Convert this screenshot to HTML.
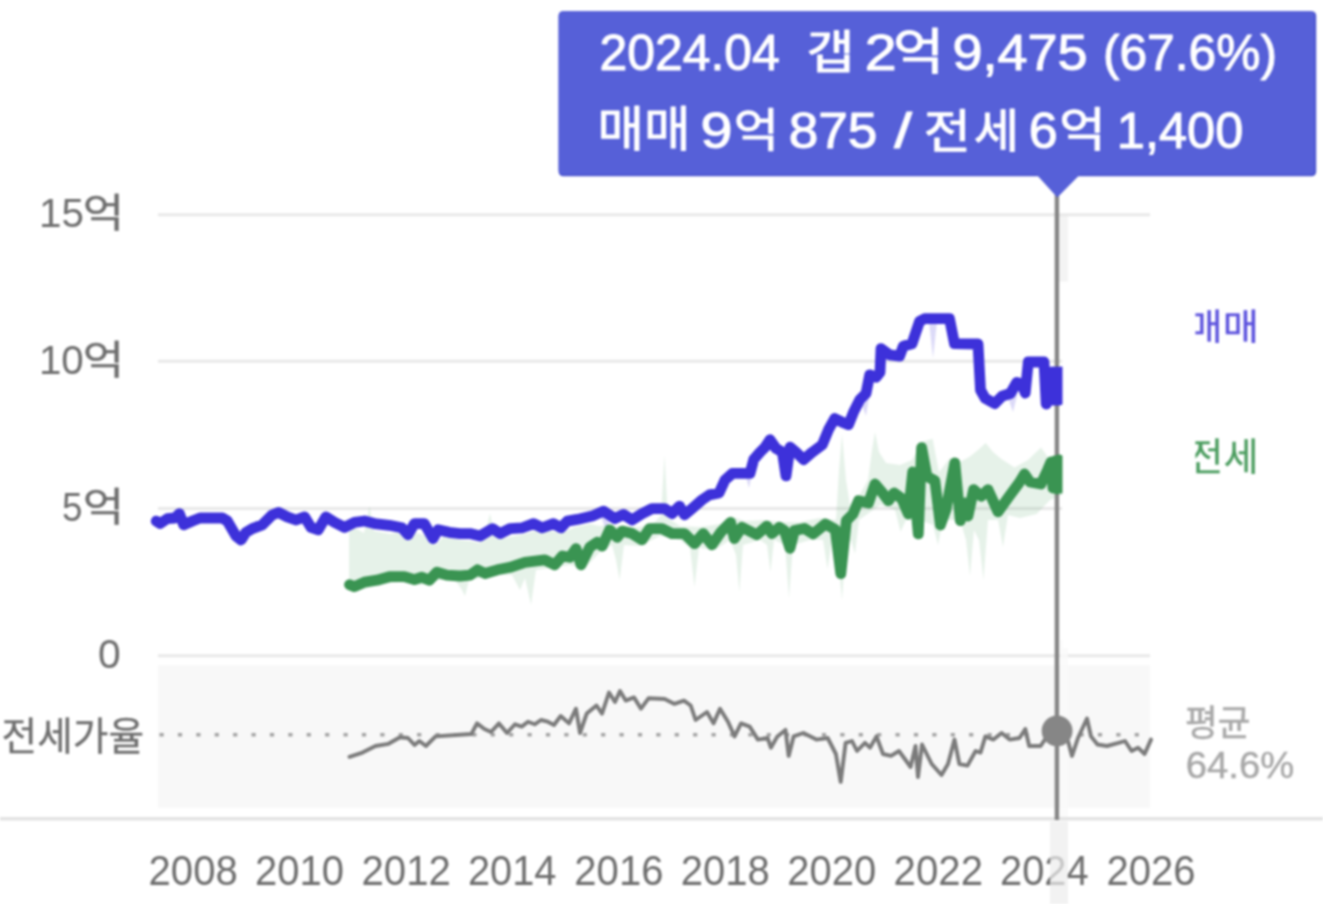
<!DOCTYPE html>
<html lang="ko"><head><meta charset="utf-8"><title>매매 / 전세 시세 차트</title>
<style>
html,body{margin:0;padding:0;background:#fff;}
body{width:1323px;height:904px;overflow:hidden;font-family:"Liberation Sans","Noto Sans CJK KR",sans-serif;}
svg{display:block;filter:blur(1.1px);}
svg text{font-family:"Liberation Sans","Noto Sans CJK KR",sans-serif;}
</style></head>
<body>
<svg width="1323" height="904" viewBox="0 0 1323 904" role="img" aria-label="매매/전세 시세 차트">
<rect width="1323" height="904" fill="#fff"/>
<rect x="1058" y="214" width="10" height="67.5" fill="#f4f4f4"/>
<line x1="158" y1="214.8" x2="1150" y2="214.8" stroke="#e8e8e8" stroke-width="3"/>
<line x1="158" y1="361.3" x2="1062" y2="361.3" stroke="#e8e8e8" stroke-width="3"/>
<line x1="158" y1="508.5" x2="1062" y2="508.5" stroke="#e8e8e8" stroke-width="3"/>
<line x1="158" y1="655.8" x2="1150" y2="655.8" stroke="#e8e8e8" stroke-width="3"/>
<rect x="158" y="665.3" width="992" height="142.4" fill="#f8f8f8"/>
<rect x="1060" y="640" width="8" height="180" fill="#fafafa" fill-opacity="0.8"/>
<line x1="0" y1="818.7" x2="1323" y2="818.7" stroke="#e3e3e3" stroke-width="3.6"/>
<line x1="159.5" y1="734.8" x2="1152" y2="734.8" stroke="#a2a2a2" stroke-width="3.6" stroke-dasharray="4.2 14.2"/>
<polygon points="349.0,530.0 355.0,528.0 364.0,533.0 369.5,506.0 374.0,531.0 390.0,534.0 401.0,532.0 408.0,541.0 416.0,533.0 428.0,536.0 436.0,545.0 444.0,536.0 460.0,540.0 470.0,541.0 480.0,543.0 486.0,530.0 490.0,513.6 494.0,532.0 505.0,538.0 520.0,535.0 535.0,531.0 550.0,531.0 562.0,533.0 575.0,527.0 590.0,524.0 600.0,526.0 610.0,524.0 620.0,527.0 640.0,527.0 655.0,522.0 661.0,515.0 664.5,455.0 668.0,518.0 680.0,526.0 700.0,527.0 720.0,524.0 730.0,516.0 745.0,521.0 765.0,520.0 780.0,522.0 800.0,522.0 820.0,518.0 836.0,520.0 839.0,470.0 842.0,434.0 846.0,480.0 850.0,505.0 860.0,494.0 868.0,480.0 872.0,450.0 875.0,432.0 879.0,452.0 886.0,463.0 900.0,465.0 912.0,460.0 922.0,442.0 932.6,438.8 939.0,472.0 950.0,458.0 960.0,462.0 970.0,456.5 978.0,450.0 985.7,443.0 993.0,452.0 1001.0,458.7 1014.5,467.5 1028.0,460.0 1041.0,447.6 1050.0,460.0 1062.0,458.0 1062.0,495.0 1050.0,500.0 1036.6,514.0 1020.0,518.0 1008.0,515.0 1003.0,547.0 998.0,520.0 988.0,520.0 983.5,580.0 979.0,540.0 974.0,530.0 970.0,576.0 966.0,540.0 960.0,520.0 943.0,520.0 938.0,545.0 933.0,525.0 920.0,520.0 906.0,520.0 900.6,531.7 895.0,510.0 880.0,505.0 859.0,520.0 855.0,554.0 851.0,540.0 846.0,545.0 842.0,600.0 838.0,560.0 832.0,540.0 827.5,569.0 823.0,540.0 810.0,540.0 793.0,545.0 789.0,598.0 785.0,545.0 774.0,540.0 770.5,572.0 767.0,545.0 760.0,540.0 743.0,545.0 739.4,592.0 736.0,555.0 730.0,540.0 715.0,550.0 699.0,548.0 694.5,587.0 690.0,548.0 680.0,540.0 660.0,536.0 640.0,546.0 624.0,545.0 619.6,579.7 616.0,560.0 612.0,545.0 600.0,552.0 585.0,568.0 570.0,565.0 550.0,568.0 536.0,570.0 531.0,604.7 525.0,578.0 520.0,590.0 512.0,575.0 500.0,575.0 480.0,578.0 469.0,580.0 465.0,596.0 462.0,590.0 455.0,580.0 440.0,580.0 420.0,585.0 400.0,582.0 380.0,584.0 360.0,590.0 349.0,590.0" fill="#3a9452" fill-opacity="0.125"/>
<polygon points="929.0,322.0 933.0,358.0 937.0,322.0" fill="#3b30d8" fill-opacity="0.18"/>
<polygon points="1008.0,398.0 1013.0,412.0 1018.0,392.0" fill="#3b30d8" fill-opacity="0.18"/>
<polygon points="600.0,514.0 606.0,530.0 612.0,516.0" fill="#3b30d8" fill-opacity="0.18"/>
<polygon points="745.0,474.0 749.0,488.0 753.0,470.0" fill="#3b30d8" fill-opacity="0.18"/>
<polygon points="860.0,400.0 866.0,416.0 870.0,392.0" fill="#3b30d8" fill-opacity="0.18"/>
<line x1="1056.9" y1="190" x2="1056.9" y2="820" stroke="#858585" stroke-width="4.4"/>
<polyline points="349.5,756.8 362.5,752.6 375.5,746.0 388.5,743.8 400.0,737.3 408.0,738.0 414.5,745.0 419.4,741.0 425.9,746.0 435.6,736.4 460.0,734.7 471.4,734.0 477.0,723.4 484.4,729.0 491.0,732.0 499.0,723.4 507.0,733.0 515.0,724.3 521.7,726.6 528.0,721.7 534.7,724.3 541.0,720.0 547.7,721.7 554.0,725.0 560.7,716.0 569.0,723.4 576.0,708.7 580.0,733.0 586.7,713.6 596.5,705.5 602.0,713.6 609.0,692.5 615.0,702.0 620.0,691.0 625.7,700.6 634.0,697.4 641.0,708.7 648.5,698.3 664.7,699.0 674.5,703.9 684.0,700.6 690.7,705.5 695.6,720.0 707.0,712.0 713.5,723.4 720.0,708.7 728.0,721.7 734.6,736.4 741.0,723.4 749.7,726.6 757.9,739.6 767.6,738.0 770.9,747.7 777.4,736.4 785.5,729.9 788.7,755.9 793.6,736.4 803.4,733.0 816.4,739.6 827.7,738.0 835.9,754.0 840.7,781.9 845.6,742.9 852.0,741.0 857.0,751.0 865.0,742.9 870.0,747.7 876.5,736.4 883.0,754.0 891.0,755.9 899.0,751.0 910.6,767.0 915.5,746.0 918.0,777.0 922.0,744.5 931.7,764.0 941.5,775.0 948.0,764.0 954.5,739.6 959.4,764.0 967.5,765.6 975.6,751.0 980.5,752.6 985.4,736.4 993.5,739.6 1001.6,733.0 1009.7,739.6 1019.5,738.0 1025.3,729.0 1029.2,746.0 1040.6,746.0 1047.0,736.4 1057.0,732.0 1068.0,741.0 1072.0,755.9 1078.0,738.0 1087.0,718.5 1091.0,736.4 1097.5,744.5 1107.0,746.0 1118.6,742.9 1125.0,741.0 1131.6,751.0 1138.0,747.7 1144.6,754.0 1151.0,739.6" fill="none" stroke="#7b7b7b" stroke-width="3.9" stroke-linejoin="round" stroke-linecap="round"/>
<polyline points="349.5,584.7 354.5,586.7 364.5,582.2 377.0,580.2 389.4,576.7 404.4,576.7 414.4,579.7 421.9,577.2 429.3,580.2 436.8,572.2 446.8,575.2 460.0,576.0 470.0,575.2 477.5,569.8 485.0,573.5 497.4,569.8 510.0,567.3 524.9,562.3 544.8,559.8 554.8,564.8 562.3,556.0 569.8,557.3 576.0,548.6 581.0,564.8 589.7,547.3 597.2,542.3 602.2,546.1 609.7,529.8 617.1,537.3 622.1,531.1 632.1,533.6 642.1,539.8 649.6,528.6 662.0,528.6 672.0,533.6 684.5,533.6 694.5,543.6 703.2,533.6 711.9,544.8 720.7,532.3 730.6,522.4 734.4,538.6 741.9,527.3 756.8,534.8 766.8,526.1 771.8,533.6 779.3,527.3 784.4,530.6 790.0,548.3 794.4,530.6 804.3,528.4 813.2,533.9 825.4,524.0 835.3,529.5 840.8,573.7 846.4,520.6 853.0,514.0 858.5,500.7 868.5,503.0 875.0,484.0 881.8,491.9 888.4,500.7 894.0,493.0 901.7,498.5 908.3,514.0 912.7,472.0 918.3,533.9 921.6,447.6 927.0,476.4 934.9,480.8 940.4,525.0 946.0,509.6 954.8,463.0 960.3,520.6 964.7,503.0 968.0,516.0 973.6,489.6 981.3,496.3 988.0,489.6 998.0,511.8 1010.0,495.2 1019.0,483.0 1024.5,474.0 1030.0,482.0 1041.0,484.0 1047.7,469.7 1051.0,462.0 1053.0,488.0 1055.0,461.0 1057.0,489.0 1059.0,460.0 1061.0,488.0 1062.0,470.0" fill="none" stroke="#3a9452" stroke-width="10.8" stroke-linejoin="round" stroke-linecap="round"/>
<polyline points="156.2,521.1 160.0,523.6 167.4,518.6 175.0,518.0 179.4,513.6 183.7,524.9 192.4,521.0 200.0,518.0 222.3,518.0 227.3,521.0 236.0,536.0 241.0,540.0 246.0,532.3 252.3,528.6 262.2,524.9 272.2,514.9 278.4,512.4 287.2,516.9 296.0,520.0 304.6,516.9 311.0,527.3 318.3,529.8 325.8,516.9 334.6,522.4 344.5,527.3 354.5,522.4 364.5,521.0 374.5,523.6 389.4,525.3 401.9,527.8 408.0,534.8 414.4,523.6 424.4,523.6 433.0,538.6 438.0,529.8 449.3,532.3 460.0,533.6 470.0,533.6 480.0,536.0 492.4,528.6 500.0,533.6 510.0,528.6 522.4,527.8 533.6,523.6 542.3,527.8 553.5,523.6 561.0,527.8 567.3,521.1 577.2,519.4 592.2,516.1 603.4,511.1 614.7,518.6 623.4,514.4 632.1,519.9 642.1,513.6 652.0,508.6 664.5,508.6 672.0,513.6 679.5,506.1 684.5,514.9 692.0,508.6 702.0,499.9 709.4,494.9 719.0,493.0 725.0,480.0 732.5,473.4 750.0,473.4 753.7,459.6 760.0,452.2 765.0,447.2 770.0,439.7 776.0,448.4 782.4,452.2 786.0,475.9 790.0,447.2 796.0,452.2 803.6,459.6 812.3,452.2 822.3,444.7 828.5,429.7 834.7,418.5 842.2,422.2 848.5,424.7 853.5,412.2 859.7,399.8 866.0,393.5 869.7,374.8 876.0,377.3 880.0,372.3 881.0,348.6 889.6,354.9 899.6,356.1 903.3,346.1 912.0,343.7 919.6,321.2 924.5,318.7 949.5,318.7 954.5,343.7 978.0,344.0 980.5,390.0 985.2,398.3 994.7,403.6 1002.0,396.2 1010.4,393.5 1016.7,382.5 1022.0,384.0 1025.2,393.0 1028.3,362.0 1044.0,362.0 1046.2,404.0 1049.3,372.0 1051.0,400.0 1053.0,372.0 1055.0,400.0 1057.0,372.0 1059.0,400.0 1061.0,372.0 1062.0,398.0" fill="none" stroke="#3d31da" stroke-width="10.8" stroke-linejoin="round" stroke-linecap="round"/>
<rect x="1062.5" y="282" width="90" height="366" fill="#fff"/>
<circle cx="1057.1" cy="730.8" r="15.4" fill="#868686"/>
<rect x="558.6" y="11.2" width="757.6" height="165" rx="4.5" fill="#4b55cf"/>
<rect x="558.6" y="11.2" width="755.8" height="163.4" rx="4.5" fill="#5660d8"/>
<polygon points="1036,174 1080.5,174 1057.3,197.5" fill="#5660d8"/>
<text x="599.49" y="70.2" font-size="50.5" fill="#ffffff" textLength="180.27" lengthAdjust="spacingAndGlyphs" stroke="#ffffff" stroke-width="1.1" stroke-linejoin="round">2024.04</text>
<text x="806.37" y="68.18" font-size="46" fill="#ffffff" textLength="48.4" lengthAdjust="spacingAndGlyphs" stroke="#ffffff" stroke-width="1.0" stroke-linejoin="round">갭</text>
<text x="864.82" y="70.2" font-size="50.5" fill="#ffffff" textLength="31.86" lengthAdjust="spacingAndGlyphs" stroke="#ffffff" stroke-width="1.1" stroke-linejoin="round">2</text>
<text x="892.94" y="69.08" font-size="49" fill="#ffffff" textLength="51.2" lengthAdjust="spacingAndGlyphs" stroke="#ffffff" stroke-width="1.0" stroke-linejoin="round">억</text>
<text x="952.47" y="70.2" font-size="50.5" fill="#ffffff" textLength="134.99" lengthAdjust="spacingAndGlyphs" stroke="#ffffff" stroke-width="1.1" stroke-linejoin="round">9,475</text>
<text x="1102.92" y="70.2" font-size="50.5" fill="#ffffff" textLength="174.07" lengthAdjust="spacingAndGlyphs" stroke="#ffffff" stroke-width="1.1" stroke-linejoin="round">(67.6%)</text>
<text x="597.53" y="146.02" font-size="47.5" fill="#ffffff" textLength="93" lengthAdjust="spacingAndGlyphs" stroke="#ffffff" stroke-width="1.0" stroke-linejoin="round">매매</text>
<text x="700.60" y="147.6" font-size="50.5" fill="#ffffff" textLength="32.03" lengthAdjust="spacingAndGlyphs" stroke="#ffffff" stroke-width="1.1" stroke-linejoin="round">9</text>
<text x="733.70" y="146.38" font-size="46" fill="#ffffff" textLength="45.3" lengthAdjust="spacingAndGlyphs" stroke="#ffffff" stroke-width="1.0" stroke-linejoin="round">억</text>
<text x="788.69" y="147.6" font-size="50.5" fill="#ffffff" textLength="88.64" lengthAdjust="spacingAndGlyphs" stroke="#ffffff" stroke-width="1.1" stroke-linejoin="round">875</text>
<text x="894.30" y="147.6" font-size="50.5" fill="#ffffff" textLength="17.70" lengthAdjust="spacingAndGlyphs" stroke="#ffffff" stroke-width="1.1" stroke-linejoin="round">/</text>
<text x="923.89" y="147.96" font-size="46.5" fill="#ffffff" textLength="47.2" lengthAdjust="spacingAndGlyphs" stroke="#ffffff" stroke-width="1.0" stroke-linejoin="round">전</text>
<text x="973.87" y="146.61" font-size="46" fill="#ffffff" textLength="45.4" lengthAdjust="spacingAndGlyphs" stroke="#ffffff" stroke-width="1.0" stroke-linejoin="round">세</text>
<text x="1028.66" y="147.6" font-size="50.5" fill="#ffffff" textLength="28.93" lengthAdjust="spacingAndGlyphs" stroke="#ffffff" stroke-width="1.1" stroke-linejoin="round">6</text>
<text x="1059.39" y="146.19" font-size="47" fill="#ffffff" textLength="46.5" lengthAdjust="spacingAndGlyphs" stroke="#ffffff" stroke-width="1.0" stroke-linejoin="round">억</text>
<text x="1116.85" y="147.6" font-size="50.5" fill="#ffffff" textLength="126.42" lengthAdjust="spacingAndGlyphs" stroke="#ffffff" stroke-width="1.1" stroke-linejoin="round">1,400</text>
<text x="38.92" y="227.3" font-size="40" fill="#6e6e6e" textLength="44.98" lengthAdjust="spacingAndGlyphs">15</text>
<text x="82.80" y="226.88" font-size="40" fill="#6e6e6e" textLength="41.5" lengthAdjust="spacingAndGlyphs" stroke="#6e6e6e" stroke-width="0.3">억</text>
<text x="38.93" y="374" font-size="40" fill="#6e6e6e" textLength="44.85" lengthAdjust="spacingAndGlyphs">10</text>
<text x="82.80" y="373.58" font-size="40" fill="#6e6e6e" textLength="41.5" lengthAdjust="spacingAndGlyphs" stroke="#6e6e6e" stroke-width="0.3">억</text>
<text x="62.02" y="521.2" font-size="40" fill="#6e6e6e" textLength="20.53" lengthAdjust="spacingAndGlyphs">5</text>
<text x="82.80" y="520.78" font-size="40" fill="#6e6e6e" textLength="41.5" lengthAdjust="spacingAndGlyphs" stroke="#6e6e6e" stroke-width="0.3">억</text>
<text x="97.91" y="668.2" font-size="40" fill="#6e6e6e" textLength="22.69" lengthAdjust="spacingAndGlyphs">0</text>
<text x="1.64" y="749.5" font-size="38.5" fill="#6e6e6e" textLength="142.5" lengthAdjust="spacingAndGlyphs" stroke="#6e6e6e" stroke-width="0.3">전세가율</text>
<text x="148.58" y="885" font-size="43.2" fill="#6e6e6e" textLength="89.16" lengthAdjust="spacingAndGlyphs">2008</text>
<text x="255.02" y="885" font-size="43.2" fill="#6e6e6e" textLength="88.97" lengthAdjust="spacingAndGlyphs">2010</text>
<text x="361.44" y="885" font-size="43.2" fill="#6e6e6e" textLength="89.44" lengthAdjust="spacingAndGlyphs">2012</text>
<text x="467.89" y="885" font-size="43.2" fill="#6e6e6e" textLength="88.57" lengthAdjust="spacingAndGlyphs">2014</text>
<text x="574.30" y="885" font-size="43.2" fill="#6e6e6e" textLength="89.18" lengthAdjust="spacingAndGlyphs">2016</text>
<text x="680.73" y="885" font-size="43.2" fill="#6e6e6e" textLength="89.16" lengthAdjust="spacingAndGlyphs">2018</text>
<text x="787.17" y="885" font-size="43.2" fill="#6e6e6e" textLength="88.97" lengthAdjust="spacingAndGlyphs">2020</text>
<text x="893.59" y="885" font-size="43.2" fill="#6e6e6e" textLength="89.44" lengthAdjust="spacingAndGlyphs">2022</text>
<text x="1000.04" y="885" font-size="43.2" fill="#6e6e6e" textLength="88.57" lengthAdjust="spacingAndGlyphs">2024</text>
<text x="1106.45" y="885" font-size="43.2" fill="#6e6e6e" textLength="89.18" lengthAdjust="spacingAndGlyphs">2026</text>
<rect x="1050" y="821.5" width="18" height="83" fill="#ececec" fill-opacity="0.7"/>
<clipPath id="lc"><rect x="1195.4" y="290" width="128" height="200"/></clipPath>
<g clip-path="url(#lc)">
<text x="1186.48" y="340.02" font-size="36.5" fill="#5b51dd" textLength="72.4" lengthAdjust="spacingAndGlyphs" stroke="#5b51dd" stroke-width="0.3">매매</text>
<text x="1188.31" y="469.7" font-size="38" fill="#4a9c5e" textLength="70.2" lengthAdjust="spacingAndGlyphs" stroke="#4a9c5e" stroke-width="0.3">전세</text>
</g>
<text x="1184.90" y="735.5" font-size="36" fill="#a8a8a8" textLength="65.5" lengthAdjust="spacingAndGlyphs" stroke="#a8a8a8" stroke-width="0.5">평균</text>
<text x="1185.76" y="778.3" font-size="36.8" fill="#a8a8a8" textLength="108.40" lengthAdjust="spacingAndGlyphs" stroke="#a8a8a8" stroke-width="0.4">64.6%</text>
</svg>
</body></html>
